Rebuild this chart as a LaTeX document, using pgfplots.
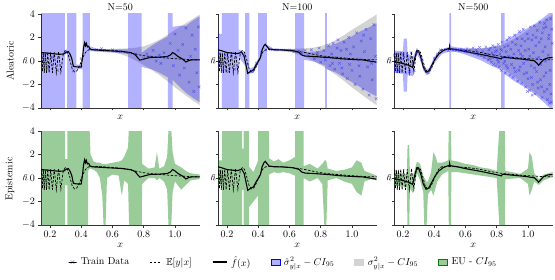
\documentclass[border=0pt]{standalone}
\usepackage{pgfplots}
\pgfplotsset{compat=1.18}
\usepackage{pgfplotstable}
\usepgfplotslibrary{fillbetween}
\usepackage{amssymb}

\definecolor{grayfill}{RGB}{211,211,211}
\definecolor{crossblue}{RGB}{50,50,235}
\definecolor{eugreen}{RGB}{0,128,0}

% ---------- true mean E[y|x] ----------
\pgfplotstableread{
x y
0.143 0.3
0.147 0.7
0.152 -0.9
0.158 0.7
0.164 -1.0
0.171 0.7
0.178 -1.0
0.186 0.75
0.195 -1.0
0.205 0.75
0.216 -1.0
0.228 0.75
0.241 -1.0
0.255 0.8
0.270 -0.95
0.285 0.6
0.298 0.88
0.312 0.75
0.327 0.1
0.342 -0.65
0.357 -0.93
0.372 -0.85
0.388 -0.45
0.405 0.1
0.42 0.55
0.435 0.85
0.45 0.96
0.48 0.99
0.52 0.97
0.56 0.94
0.60 0.9
0.65 0.83
0.70 0.72
0.75 0.58
0.80 0.45
0.85 0.37
0.90 0.3
0.95 0.25
1.00 0.2
1.05 0.16
1.10 0.12
1.157 0.1
}\truthT

% ---------- fitted means ----------
\pgfplotstableread{
x y
0.143 0.72
0.18 0.68
0.22 0.62
0.26 0.57
0.29 0.6
0.305 0.75
0.318 0.8
0.33 0.55
0.34 0.2
0.35 -0.45
0.37 -0.5
0.40 -0.52
0.408 0.2
0.415 1.1
0.422 1.55
0.428 1.3
0.433 1.5
0.44 1.2
0.448 1.25
0.455 1.05
0.47 0.95
0.50 0.93
0.56 0.88
0.62 0.84
0.67 0.8
0.72 0.7
0.745 0.55
0.76 0.3
0.775 0.08
0.79 0.12
0.81 0.2
0.84 0.3
0.90 0.33
0.95 0.38
0.97 0.5
0.985 0.72
1.0 0.6
1.02 0.38
1.05 0.15
1.07 -0.08
1.09 0.05
1.11 0.1
1.157 0.1
}\fA
\pgfplotstableread{
x y
0.143 0.95
0.16 0.9
0.20 0.72
0.24 0.66
0.27 0.64
0.295 0.75
0.31 0.4
0.32 -0.2
0.333 -1.05
0.35 -0.9
0.37 -0.75
0.39 -0.25
0.405 0.05
0.415 0.3
0.425 0.95
0.437 1.3
0.445 1.42
0.455 1.25
0.47 1.02
0.50 0.96
0.56 0.94
0.62 0.88
0.66 0.74
0.68 0.5
0.70 0.42
0.78 0.36
0.86 0.28
0.92 0.2
0.99 0.14
1.07 0.09
1.157 -0.1
}\fB
\pgfplotstableread{
x y
0.143 -0.05
0.17 -0.12
0.21 -0.25
0.24 -0.38
0.262 -0.55
0.275 0.2
0.29 0.9
0.30 0.85
0.315 0.3
0.33 -0.5
0.348 -0.95
0.365 -0.85
0.385 -0.35
0.405 0.15
0.43 0.6
0.46 0.9
0.49 1.05
0.497 1.0
0.499 1.25
0.502 1.05
0.55 0.95
0.60 0.8
0.65 0.68
0.70 0.56
0.75 0.42
0.80 0.28
0.83 0.18
0.835 0.3
0.845 0.32
0.90 0.24
0.98 0.14
1.04 0.02
1.055 -0.15
1.068 -0.35
1.085 -0.1
1.10 0.12
1.126 0.26
1.157 0.3
}\fC

% ---------- true noise band ----------
\pgfplotstableread{
x lo hi
0.45 0.95 0.95
0.50 0.95 0.99
0.55 0.88 1.00
0.60 0.77 1.03
0.65 0.59 1.05
0.70 0.36 1.08
0.75 0.03 1.13
0.80 -0.35 1.25
0.85 -0.75 1.49
0.90 -1.2 1.8
0.95 -1.7 2.2
1.00 -2.25 2.65
1.05 -2.74 3.06
1.10 -3.23 3.47
1.157 -3.75 3.95
}\grayT

% ---------- predicted aleatoric bands ----------
\pgfplotstableread{
x lo hi
0.143 -6 6
0.296 -6 6
0.296 0.55 0.75
0.31 0.6 0.95
0.31 -6 6
0.37 -6 6
0.37 -0.7 -0.3
0.409 -0.7 -0.3
0.409 -6 6
0.455 -6 6
0.455 0.85 1.25
0.50 0.8 1.05
0.56 0.75 1.0
0.62 0.7 0.98
0.70 0.6 1.0
0.70 -6 6
0.786 -6 6
0.786 -0.5 0.7
0.85 -0.7 1.3
0.90 -1.0 1.7
0.955 -1.4 2.1
0.955 -6 6
0.985 -6 6
0.985 -1.6 2.9
1.03 -2.2 3.0
1.07 -2.7 3.0
1.11 -3.1 3.4
1.157 -3.5 3.8
}\blueA
\pgfplotstableread{
x lo hi
0.143 -0.5 2.3
0.168 -0.5 2.3
0.168 -6 6
0.275 -6 6
0.275 0.35 1.0
0.317 -0.4 0.6
0.317 -6 6
0.343 -6 6
0.343 -1.1 -0.7
0.37 -1.0 -0.5
0.40 -0.3 0.2
0.40 -6 6
0.455 -6 6
0.455 1.1 1.4
0.50 0.85 1.05
0.56 0.85 1.03
0.636 0.75 1.0
0.636 -6 6
0.694 -6 6
0.694 0.1 0.75
0.76 -0.05 0.8
0.828 -0.4 0.95
0.828 -6 6
0.839 -6 6
0.839 -0.7 1.2
0.90 -1.0 1.5
0.95 -1.4 1.8
1.00 -1.8 2.1
1.05 -2.2 2.5
1.10 -2.6 2.8
1.157 -3.0 3.2
}\blueB
\pgfplotstableread{
x lo hi
0.143 -1.0 0.9
0.20 -1.1 0.8
0.205 -2.6 1.9
0.225 -2.6 1.9
0.23 -1.2 0.6
0.265 -1.3 0.4
0.275 -0.2 0.6
0.29 0.6 1.15
0.31 0.1 0.6
0.33 -0.75 -0.25
0.35 -1.2 -0.7
0.37 -1.1 -0.6
0.40 -0.2 0.35
0.45 0.6 1.0
0.497 0.8 1.2
0.497 -6 6
0.509 -6 6
0.509 0.8 1.25
0.55 0.75 1.15
0.60 0.55 1.05
0.65 0.3 1.05
0.70 0.05 1.05
0.75 -0.3 1.15
0.80 -0.6 1.25
0.828 -0.8 1.3
0.828 -6 6
0.85 -6 6
0.85 -1.1 1.7
0.90 -1.6 2.1
0.95 -2.0 2.5
1.00 -2.4 2.8
1.05 -2.9 3.2
1.10 -3.5 3.7
1.157 -4.2 4.3
}\blueC

% ---------- epistemic bands ----------
\pgfplotstableread{
x lo hi
0.143 -6 6
0.298 -6 6
0.298 -0.6 1.6
0.312 -0.6 1.6
0.312 -6 6
0.445 -6 6
0.445 0.6 4.5
0.453 0.8 4.5
0.46 0.8 2.0
0.48 0.7 1.4
0.50 0.5 1.3
0.52 0.0 1.3
0.535 -1.5 1.2
0.545 -4.5 1.2
0.555 -4.5 1.2
0.565 0.0 1.2
0.60 0.3 1.3
0.64 0.2 1.4
0.66 -1.5 1.5
0.675 -0.2 1.8
0.70 -0.5 2.6
0.71 -6 6
0.786 -6 6
0.79 -0.5 1.2
0.83 0.0 0.8
0.87 0.0 0.9
0.885 -0.2 2.2
0.90 0.0 0.8
0.93 -0.3 1.0
0.95 -1.0 1.8
0.96 -4.5 4.5
0.975 -4.5 4.5
0.985 -1.2 2.2
1.00 -0.3 1.2
1.04 -1.0 0.9
1.07 -0.6 0.6
1.10 -0.2 0.4
1.157 -0.1 0.3
}\greenA
\pgfplotstableread{
x lo hi
0.143 -0.5 1.5
0.17 -0.5 1.5
0.17 -6 6
0.298 -6 6
0.298 -1 2.5
0.307 -1 2.5
0.307 -6 6
0.34 -6 6
0.34 -2.5 1.0
0.37 -2.0 0.5
0.40 -1.5 1.5
0.40 -6 6
0.47 -6 6
0.47 0.3 1.7
0.50 0.5 1.4
0.53 0.4 1.6
0.56 0.5 1.3
0.60 0.4 1.5
0.637 0.2 1.8
0.637 -6 6
0.69 -6 6
0.69 0.0 1.0
0.73 -0.3 1.2
0.78 0.0 0.8
0.81 -0.5 1.2
0.825 -4.5 1.5
0.835 -4.5 1.5
0.845 -0.2 0.8
0.90 0.0 0.6
0.95 -0.3 0.7
1.00 -0.5 0.9
1.03 -1.2 1.5
1.06 -1.5 1.3
1.08 -0.3 0.6
1.12 -0.1 0.4
1.157 -0.2 0.2
}\greenB
\pgfplotstableread{
x lo hi
0.143 -0.6 0.5
0.20 -0.7 0.4
0.225 -0.8 0.3
0.23 -4.5 2.8
0.24 -4.5 2.8
0.245 -0.9 0.3
0.265 -1.3 0.2
0.29 0.4 1.4
0.31 -0.2 1.2
0.33 -1.2 0.2
0.338 -4.5 0.0
0.35 -4.5 -0.3
0.36 -1.4 -0.3
0.38 -1.0 0.5
0.395 -1.5 2.2
0.41 -0.8 1.8
0.42 -0.3 1.3
0.45 0.3 1.3
0.49 0.6 1.5
0.495 -6 6
0.507 -6 6
0.51 0.5 1.5
0.55 0.5 1.4
0.60 0.4 1.2
0.65 0.3 1.1
0.70 0.2 0.9
0.75 0.1 0.8
0.80 0.0 0.6
0.825 -6 6
0.85 -6 6
0.855 -0.1 0.6
0.90 -0.05 0.5
0.95 0.0 0.35
1.00 -0.5 0.8
1.01 -1.5 2.2
1.025 -1.0 1.8
1.04 -0.3 0.4
1.07 -0.6 -0.1
1.10 -0.2 0.3
1.157 0.1 0.5
}\greenC

% ---------- training data ----------
\pgfplotstableread{
x y
0.16 0.5
0.19 -0.6
0.22 0.3
0.25 -0.8
0.30 0.85
0.35 -0.85
0.40 0.2
0.50 0.95
0.53 1.05
0.55 0.9
0.60 0.95
0.65 0.8
0.70 0.7
0.75 0.6
0.80 0.2
0.82 0.6
0.84 0.35
0.86 0.9
0.88 0.0
0.90 0.5
0.91 -0.2
0.93 0.7
0.95 0.3
0.97 1.5
0.99 -0.4
1.00 2.3
1.02 0.9
1.03 -1.2
1.05 1.4
1.06 -0.6
1.07 2.8
1.09 -1.8
1.10 0.4
1.11 2.2
1.12 -2.6
1.13 1.0
1.14 -1.0
1.15 2.9
1.155 -2.2
}\dA
\pgfplotstableread{
x y
0.15 0.6
0.17 -0.8
0.19 0.5
0.21 -0.9
0.23 0.4
0.25 -0.7
0.27 -0.5
0.29 0.8
0.31 0.5
0.33 -0.3
0.36 -0.9
0.39 -0.2
0.42 0.7
0.45 0.95
0.48 0.97
0.52 0.95
0.56 0.92
0.60 0.93
0.63 0.8
0.66 0.85
0.68 0.6
0.70 0.9
0.72 0.45
0.74 0.95
0.76 0.2
0.78 0.7
0.79 1.1
0.80 -0.1
0.82 0.9
0.83 0.1
0.85 1.3
0.86 -0.4
0.87 0.6
0.875 -0.2
0.88 1.5
0.89 -0.7
0.90 0.3
0.905 1.1
0.91 1.8
0.92 -0.2
0.93 0.9
0.935 -0.6
0.94 -1.1
0.95 1.6
0.96 0.2
0.965 1.0
0.97 -1.5
0.98 2.0
0.985 -0.3
0.99 0.6
1.00 -0.8
1.01 1.2
1.02 -2.0
1.03 2.4
1.04 0.1
1.045 -0.4
1.05 -1.3
1.06 1.7
1.07 -2.4
1.075 2.2
1.08 0.8
1.09 2.7
1.10 -0.5
1.11 -2.9
1.12 1.9
1.125 -0.2
1.13 -1.6
1.14 3.1
1.15 0.4
1.155 -3.2
}\dB
\pgfplotstableread{
x y
0.146 0.5
0.152 -0.7
0.158 0.3
0.163 -0.9
0.170 0.6
0.176 -0.8
0.183 0.2
0.189 0.7
0.196 -0.9
0.203 0.5
0.212 -0.4
0.219 -1.0
0.226 0.6
0.234 0.2
0.243 -0.9
0.252 0.7
0.26 -0.2
0.272 -0.8
0.285 0.7
0.30 0.8
0.32 0.1
0.34 -0.75
0.36 -1.0
0.38 -0.5
0.40 0.25
0.42 0.6
0.44 0.95
0.47 1.0
0.49 0.9
0.51 0.98
0.52 0.93
0.53 1.0
0.54 0.9
0.55 0.97
0.56 0.85
0.57 1.02
0.58 0.88
0.59 0.96
0.60 0.8
0.61 1.05
0.62 0.78
0.63 0.98
0.64 0.7
0.65 1.1
0.66 0.62
0.67 0.95
0.68 0.5
0.69 1.15
0.70 0.45
0.71 0.85
0.72 0.3
0.73 1.2
0.74 0.6
0.745 0.1
0.75 0.95
0.755 0.2
0.76 1.1
0.765 -0.1
0.77 0.7
0.772 0.3
0.775 1.3
0.78 -0.3
0.785 0.5
0.79 1.2
0.792 0.8
0.795 -0.4
0.80 0.9
0.805 0.1
0.81 1.4
0.812 -0.1
0.815 -0.5
0.82 0.6
0.825 1.0
0.83 -0.8
0.832 0.9
0.835 1.6
0.84 0.3
0.845 -0.2
0.85 1.2
0.852 0.0
0.855 -1.0
0.86 0.8
0.862 -0.4
0.865 1.8
0.87 -0.6
0.872 1.3
0.875 0.4
0.88 2.0
0.885 -1.2
0.89 1.0
0.892 0.3
0.895 -0.3
0.90 1.6
0.905 -1.4
0.91 0.6
0.912 -0.6
0.915 2.2
0.92 -0.9
0.922 1.4
0.925 0.2
0.93 1.9
0.935 -1.7
0.94 0.9
0.942 -0.8
0.945 2.5
0.95 -0.5
0.952 0.6
0.955 1.3
0.96 -1.9
0.962 1.9
0.965 0.4
0.97 2.7
0.972 -0.2
0.975 -1.1
0.98 1.7
0.982 0.9
0.985 -2.2
0.99 0.1
0.992 -1.0
0.995 2.3
0.997 -2.6
1.00 -1.5
1.002 1.9
1.005 1.0
1.01 -2.5
1.012 0.4
1.015 2.9
1.02 -0.4
1.022 -1.4
1.025 1.8
1.027 -2.9
1.03 -2.0
1.032 2.2
1.035 0.7
1.04 3.0
1.042 -0.6
1.045 -2.8
1.05 1.3
1.052 2.0
1.055 -0.9
1.057 0.2
1.06 2.6
1.062 -1.8
1.065 -2.3
1.07 0.3
1.072 1.6
1.075 3.3
1.08 -1.6
1.082 -0.3
1.085 1.9
1.087 -2.2
1.09 -3.1
1.092 2.4
1.095 0.8
1.10 2.8
1.102 -1.3
1.105 -2.6
1.107 3.2
1.11 1.2
1.112 0.0
1.115 -1.0
1.117 2.9
1.12 3.5
1.122 -2.4
1.125 -3.3
1.13 0.5
1.132 1.9
1.135 2.2
1.137 -3.6
1.14 -2.0
1.142 -0.8
1.145 3.6
1.147 -2.8
1.15 -3.5
1.152 2.7
1.155 1.5
}\dC

\newcommand{\band}[3]{%
  \addplot[draw=none, name path=#3a, forget plot] table[x=x,y=hi]{#1};
  \addplot[draw=none, name path=#3b, forget plot] table[x=x,y=lo]{#1};
  \addplot[#2, forget plot] fill between[of=#3a and #3b];
}
\newcommand{\lines}[1]{%
  \addplot[black, line width=0.7pt, dash pattern=on 2.5pt off 1.5pt, forget plot] table[x=x,y=y]{\truthT};
  \addplot[black, line width=1.1pt, forget plot] table[x=x,y=y]{#1};
}
\newcommand{\pts}[1]{%
  \addplot[only marks, mark=x, mark size=1.8pt, crossblue, opacity=0.6, mark options={line width=0.5pt}, forget plot] table[x=x,y=y]{#1};
}

\pgfplotsset{
  base/.style={
    scale only axis, width=158.5pt, height=94pt, anchor=south west,
    xmin=0.143, xmax=1.157, ymin=-4, ymax=4,
    xtick={0.2,0.4,0.6,0.8,1.0}, ytick={-4,-2,0,2,4},
    axis x line*=bottom, axis y line*=left,
    axis line style={black!80, line width=0.5pt},
    tick align=outside, major tick length=2.5pt,
    tick style={black!80, line width=0.5pt},
    xlabel={$x$}, ylabel={$y$},
    xticklabel style={/pgf/number format/fixed, /pgf/number format/precision=1, /pgf/number format/fixed zerofill},
    ylabel style={at={(axis description cs:-0.10,0.5)}, anchor=center, rotate=90},
    xlabel style={at={(axis description cs:0.5,-0.215)}, anchor=center},
  },
  toprow/.style={xticklabels={}, xlabel style={at={(axis description cs:0.5,-0.095)}, anchor=center}},
  inner/.style={yticklabels={}, ylabel style={at={(axis description cs:-0.03,0.5)}, anchor=center}},
}

\begin{document}
\begin{tikzpicture}

% ===== Top row: Aleatoric =====
\begin{axis}[base, toprow, at={(41pt,171pt)}]
  \band{\grayT}{fill=grayfill}{ga}
  \band{\blueA}{fill=blue, fill opacity=0.3}{ba}
  \pts{\dA}
  \lines{\fA}
\end{axis}
\begin{axis}[base, toprow, inner, at={(218pt,171pt)}]
  \band{\grayT}{fill=grayfill}{gb}
  \band{\blueB}{fill=blue, fill opacity=0.3}{bb}
  \pts{\dB}
  \lines{\fB}
\end{axis}
\begin{axis}[base, toprow, inner, at={(394pt,171pt)}]
  \band{\grayT}{fill=grayfill}{gc}
  \band{\blueC}{fill=blue, fill opacity=0.3}{bc}
  \pts{\dC}
  \lines{\fC}
\end{axis}

% ===== Bottom row: Epistemic =====
\begin{axis}[base, at={(41pt,54pt)}]
  \band{\greenA}{fill=eugreen, fill opacity=0.4}{ea}
  \lines{\fA}
\end{axis}
\begin{axis}[base, inner, at={(218pt,54pt)},
  legend style={at={(-0.945,-0.394)}, anchor=west, legend columns=6, draw=none, fill=none,
    font=\normalsize, inner sep=0pt,
    /tikz/every even column/.append style={column sep=18pt},
    /tikz/every odd column/.append style={column sep=2pt}},
  legend cell align=left]
  \band{\greenB}{fill=eugreen, fill opacity=0.4}{eb}
  \lines{\fB}
  \addlegendimage{legend image code/.code={\draw[crossblue, opacity=0.6, line width=0.5pt] (2pt,-1.8pt) -- (5.6pt,1.8pt) (2pt,1.8pt) -- (5.6pt,-1.8pt); \path (0pt,0pt) rectangle (8pt,0pt);}}
  \addlegendentry{Train Data}
  \addlegendimage{legend image code/.code={\draw[black, line width=0.7pt, dash pattern=on 2.5pt off 1.5pt] (0pt,0pt) -- (12pt,0pt);}}
  \addlegendentry{$\mathbb{E}[y|x]$}
  \addlegendimage{legend image code/.code={\draw[black, line width=1.1pt] (0pt,0pt) -- (14pt,0pt);}}
  \addlegendentry{$\hat{f}(x)$}
  \addlegendimage{legend image code/.code={\fill[blue, fill opacity=0.3] (0pt,-3pt) rectangle (9pt,3pt);}}
  \addlegendentry{$\hat{\sigma}^2_{y|x} - CI_{95}$}
  \addlegendimage{legend image code/.code={\fill[grayfill] (0pt,-3pt) rectangle (9pt,3pt);}}
  \addlegendentry{$\sigma^2_{y|x} - CI_{95}$}
  \addlegendimage{legend image code/.code={\fill[eugreen, fill opacity=0.4] (0pt,-3pt) rectangle (9pt,3pt);}}
  \addlegendentry{EU - $CI_{95}$}
\end{axis}
\begin{axis}[base, inner, at={(394pt,54pt)}]
  \band{\greenC}{fill=eugreen, fill opacity=0.4}{ec}
  \lines{\fC}
\end{axis}

\node at (120.25pt,271.5pt) {N=50};
\node at (297.25pt,271.5pt) {N=100};
\node at (473.25pt,271.5pt) {N=500};
\node[rotate=90] at (10pt,218pt) {Aleatoric};
\node[rotate=90] at (10pt,100pt) {Epistemic};
\pgfresetboundingbox
\path[use as bounding box] (0,0) rectangle (555pt,279pt);
\end{tikzpicture}
\end{document}
